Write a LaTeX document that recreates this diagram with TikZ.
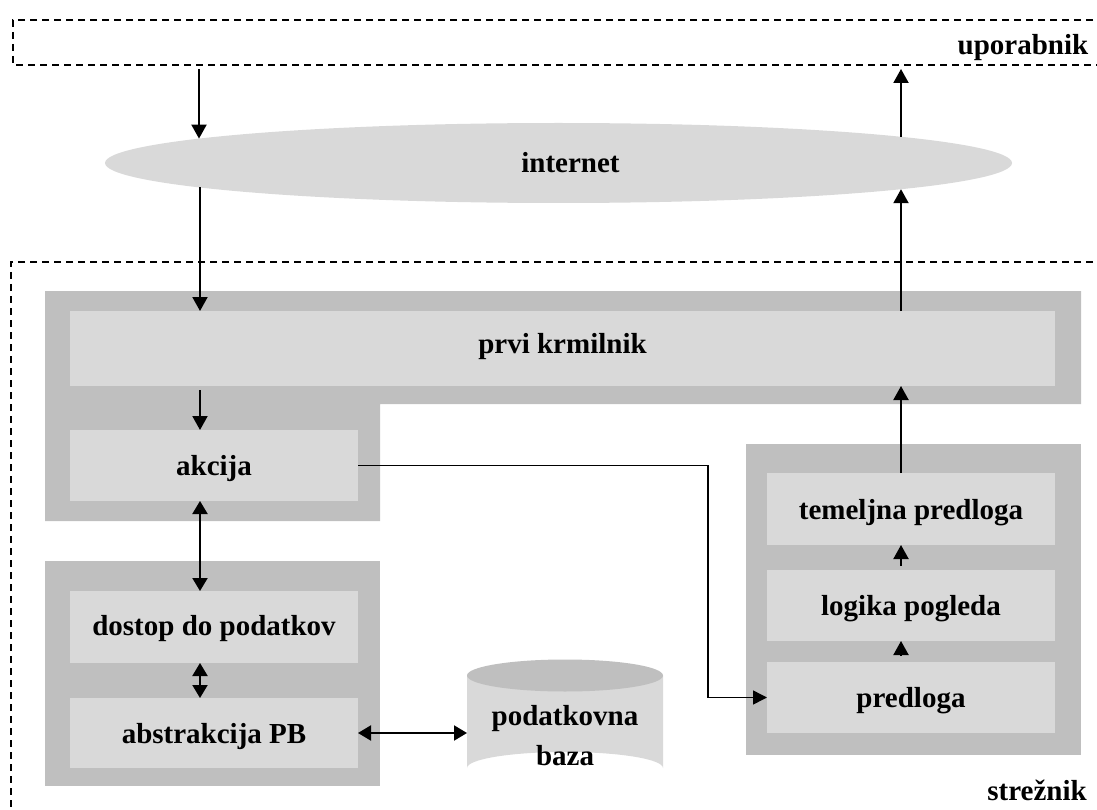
\documentclass[tikz,border=0pt]{standalone}
\usepackage{fontspec}
\setmainfont{Liberation Serif}
\usetikzlibrary{arrows.meta,shapes.geometric,calc}
\definecolor{gdark}{RGB}{191,191,191}
\definecolor{glight}{RGB}{217,217,217}
\tikzset{
  frame/.style={line width=1.3pt, dash pattern=on 7pt off 5pt},
  outerbox/.style={fill=gdark, draw=none, inner sep=0pt, outer sep=0pt},
  innerbox/.style={fill=glight, draw=none, inner sep=0pt, outer sep=0pt,
     minimum width=288pt, text height=22pt, text depth=2pt},
  lbl/.style={inner sep=0pt, outer sep=0pt, text height=22pt, text depth=2pt},
  arr/.style={line width=2pt, -{Triangle[length=14pt,width=15pt]}},
  arrboth/.style={line width=2pt, {Triangle[length=13pt,width=15pt]}-{Triangle[length=13pt,width=15pt]}},
  arrthin/.style={line width=1.5pt, -{Triangle[length=14pt,width=14pt]}}
}
\begin{document}
\begin{tikzpicture}[x=1pt,y=-1pt,font=\bfseries\fontsize{29}{40}\selectfont]
\useasboundingbox (0,0) rectangle (1097,810);

% frames
\draw[frame] (1105,20) -- (13,20) -- (13,65) -- (1105,65);
\node[lbl] (upor) at (1023,45) {uporabnik};
\draw[frame] (1105,262) -- (11,262) -- (11,820);
\node[lbl] (strez) at (1037,790) {strežnik};

% internet
\node[ellipse, fill=glight, draw=none, inner sep=0pt, outer sep=0pt,
      minimum width=907pt, minimum height=80pt,
      label={[lbl, xshift=12pt]center:internet}] (inet) at (558.5,163) {};

% L-shaped background of the front controller
\fill[gdark] (45,291) -- (1081,291) -- (1081,404) -- (380,404) -- (380,521) -- (45,521) -- cycle;
\node[innerbox, minimum width=985pt, minimum height=75pt, text height=15pt, text depth=6pt] (pk) at (562.5,348.5) {prvi krmilnik};
\node[innerbox, minimum height=71pt] (akc) at (214,465.5) {akcija};

% model background
\node[outerbox, minimum width=335pt, minimum height=225pt] (mbox) at (212.5,673.5) {};
\node[innerbox, minimum height=72pt, text depth=6pt] (dost) at (214,627) {dostop do podatkov};
\node[innerbox, minimum height=70pt] (abs) at (214,733) {abstrakcija PB};

% view background
\node[outerbox, minimum width=335pt, minimum height=311pt] (vbox) at (913.5,599.5) {};
\node[innerbox, minimum height=72pt] (tem) at (911,509) {temeljna predloga};
\node[innerbox, minimum height=71pt] (log) at (911,605.5) {logika pogleda};
\node[innerbox, minimum height=71pt] (pred) at (911,697.5) {predloga};

% database cylinder
\fill[glight] (467,675.5) -- (467,768) arc[start angle=180, end angle=360, x radius=98, y radius=16] -- (663,675.5) -- cycle;
\fill[gdark] (565,675.5) ellipse[x radius=98, y radius=16];
\node[inner sep=0pt, outer sep=0pt, minimum width=196pt, align=center] (db) at (565,736) {podatkovna\\baza};

% reference coordinates
\coordinate (xL) at (200,0);
\coordinate (xR) at (901,0);
\coordinate (u1) at (199,69);
\coordinate (u2) at (901,69);
\coordinate (bend) at (708,600);
\coordinate (iTL) at ($(inet.center)+(-359.5,-24.4)$);
\coordinate (iBL) at ($(inet.center)+(-358.5,24.5)$);
\coordinate (iTR) at ($(inet.center)+(342.5,-26.2)$);
\coordinate (iBR) at ($(inet.center)+(342.5,26.2)$);

% connectors
\draw[arr] (u1) -- (iTL);
\draw[arr] (iBL) -- (pk.north -| iBL);
\draw[arr] ([yshift=-4pt]pk.south -| xL) -- (akc.north -| xL);
\draw[arrboth] (akc.south -| xL) -- (dost.north -| xL);
\draw[arrboth] (dost.south -| xL) -- (abs.north -| xL);
\draw[arrboth] (abs.east) -- (abs.east -| db.west);
\draw[arrthin] (akc.east) -- (akc.east -| bend) |- (pred.west);
\draw[arr] ([yshift=6pt]pred.north -| xR) -- (log.south -| xR);
\draw[arr] ([yshift=4pt]log.north -| xR) -- (tem.south -| xR);
\draw[arr] (tem.north -| xR) -- (pk.south -| xR);
\draw[arr] (pk.north -| xR) -- (iBR);
\draw[arr] (iTR) -- (u2);
\end{tikzpicture}
\end{document}
